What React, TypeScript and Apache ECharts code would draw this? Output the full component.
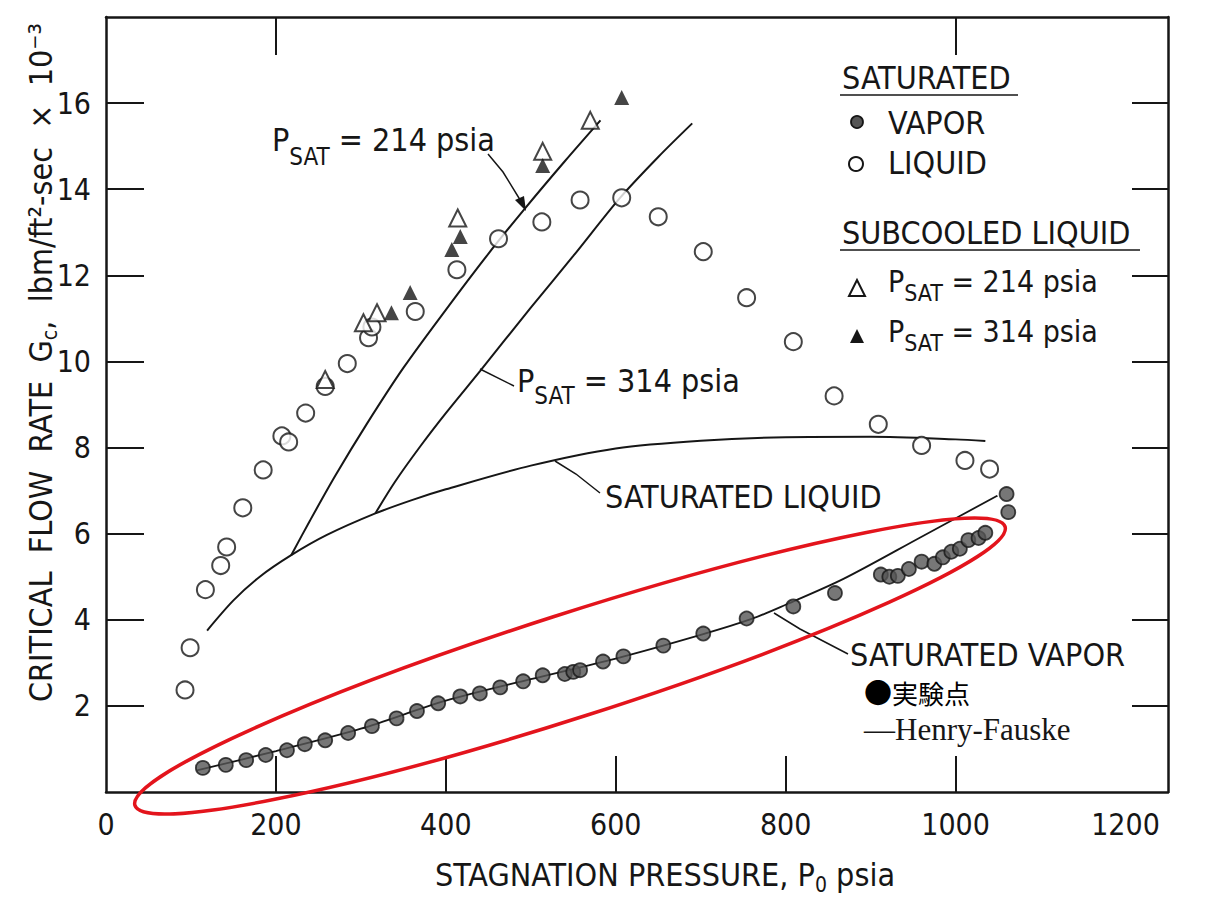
import React, { useEffect, useRef } from 'react';
import * as echarts from 'echarts';

// ---- axis ticks / labels ----
const xLabelValues = [0, 200, 400, 600, 800, 1000, 1200];
const xTickValues = [200, 400, 600, 800, 1000];
const xTopTickValues = [200, 1000];
const yTickValues = [2, 4, 6, 8, 10, 12, 14, 16];

// ---- experimental points [P0 psia, Gc x10^-3] ----
const satVaporPoints = [
  [114, 0.56], [141, 0.63], [165, 0.74], [188, 0.86], [213, 0.97], [234, 1.11], [258, 1.2],
  [285, 1.37], [313, 1.53], [342, 1.71], [366, 1.88], [391, 2.06], [417, 2.22], [440, 2.29],
  [464, 2.43], [491, 2.57], [514, 2.71], [540, 2.74], [550, 2.79], [558, 2.83], [585, 3.03],
  [609, 3.15], [656, 3.4], [703, 3.68], [754, 4.03], [809, 4.31], [858, 4.62], [912, 5.05],
  [922, 5.0], [932, 5.02], [945, 5.18], [960, 5.35], [975, 5.3], [985, 5.45], [995, 5.58],
  [1005, 5.65], [1015, 5.85], [1027, 5.9], [1035, 6.02], [1060, 6.92], [1062, 6.5],
];
const satLiquidPoints = [
  [93, 2.37], [99, 3.35], [117, 4.7], [135, 5.26], [142, 5.69], [161, 6.6], [185, 7.48],
  [207, 8.27], [215, 8.13], [235, 8.8], [258, 9.42], [284, 9.95], [309, 10.55], [313, 10.8],
  [364, 11.16], [413, 12.13], [462, 12.85], [513, 13.24], [558, 13.75], [607, 13.8],
  [650, 13.36], [703, 12.55], [754, 11.48], [809, 10.46], [857, 9.2], [909, 8.54],
  [960, 8.05], [1011, 7.7], [1040, 7.5],
];
const subcooled214Points = [[258, 9.58], [303, 10.9], [319, 11.13], [414, 13.33], [514, 14.88], [570, 15.6]];
const subcooled314Points = [[336, 11.13], [358, 11.6], [407, 12.6], [417, 12.9], [514, 14.55], [607, 16.13]];

// ---- Henry-Fauske curves ----
const satLiquidCurve = [
  [119, 3.75], [150, 4.45], [181, 5.0], [218, 5.5], [260, 5.97], [317, 6.47], [360, 6.78],
  [400, 7.03], [500, 7.58], [600, 7.98], [700, 8.16], [800, 8.24], [900, 8.25], [1000, 8.19], [1035, 8.15],
];
const psat214Curve = [
  [218, 5.5], [240, 6.3], [270, 7.35], [307, 8.55], [350, 9.85], [400, 11.2], [450, 12.5],
  [493, 13.55], [540, 14.65], [582, 15.6],
];
const psat314Curve = [
  [317, 6.47], [340, 7.2], [370, 8.03], [400, 8.8], [440, 9.77], [500, 11.25], [550, 12.45],
  [605, 13.8], [650, 14.75], [690, 15.53],
];
const satVaporCurve = [
  [107, 0.5], [200, 0.95], [300, 1.47], [400, 2.12], [500, 2.62], [600, 3.1], [700, 3.65],
  [760, 4.02], [800, 4.35], [868, 4.95], [960, 5.93], [1049, 6.88],
];

const FONT = "'DejaVu Sans Condensed', 'Liberation Sans Narrow', 'DejaVu Sans', sans-serif";
const SERIF = "'Liberation Serif', 'DejaVu Serif', serif";
const CJK = "'Noto Sans CJK JP', sans-serif";
const INK = '#161616';
const RED = '#e3141c';

function psatText(x: number, y: number, value: string, size: number, subSize: number, subPad: number) {
  return {
    type: 'text',
    x,
    y,
    z: 50,
    style: {
      text: `{m|P}{s|SAT}{m| = ${value} psia}`,
      verticalAlign: 'middle',
      rich: {
        m: { fontSize: size, fontFamily: FONT, fill: INK },
        s: { fontSize: subSize, fontFamily: FONT, fill: INK, padding: [subPad, 0, 0, 0] },
      },
    },
  };
}

function plainText(x: number, y: number, text: string, size: number, family = FONT) {
  return {
    type: 'text',
    x,
    y,
    z: 50,
    style: { text, fontSize: size, fontFamily: family, fill: INK, verticalAlign: 'middle' },
  };
}

function seg(points: number[][], width = 1.5) {
  return {
    type: 'polyline',
    z: 50,
    shape: { points },
    style: { stroke: INK, lineWidth: width, fill: 'none' },
  };
}

const lineBase = {
  type: 'line',
  showSymbol: false,
  symbol: 'none',
  smooth: 0.3,
  silent: true,
  lineStyle: { color: INK, width: 2 },
  z: 2,
};

const option = {
  animation: false,
  backgroundColor: '#ffffff',
  grid: { left: 106, right: 60, top: 17, bottom: 107, containLabel: false },
  xAxis: [
    {
      type: 'value',
      position: 'bottom',
      min: 0,
      max: 1250,
      interval: 200,
      axisLine: { show: true, onZero: false, lineStyle: { color: INK, width: 2.5 } },
      axisTick: { show: true, inside: true, length: 36, lineStyle: { color: INK, width: 2 }, customValues: xTickValues },
      axisLabel: {
        customValues: xLabelValues,
        margin: 17,
        fontSize: 30,
        fontFamily: FONT,
        color: INK,
        formatter: (v: number) => String(v),
      },
      splitLine: { show: false },
      name: '{m|STAGNATION PRESSURE, P}{s|0}{m| psia}',
      nameLocation: 'middle',
      nameGap: 62,
      nameMoveOverlap: false,
      nameTextStyle: {
        padding: [0, 0, 0, 56],
        rich: {
          m: { fontSize: 32, fontFamily: FONT, color: INK },
          s: { fontSize: 21, fontFamily: FONT, color: INK, padding: [20, 0, 0, 0] },
        },
      },
    },
    {
      type: 'value',
      position: 'top',
      min: 0,
      max: 1250,
      interval: 200,
      axisLine: { show: true, onZero: false, lineStyle: { color: INK, width: 2.5 } },
      axisTick: { show: true, inside: true, length: 38, lineStyle: { color: INK, width: 2 }, customValues: xTopTickValues },
      axisLabel: { show: false },
      splitLine: { show: false },
    },
  ],
  yAxis: [
    {
      type: 'value',
      position: 'left',
      min: 0,
      max: 18,
      interval: 2,
      axisLine: { show: true, onZero: false, lineStyle: { color: INK, width: 2.5 } },
      axisTick: { show: true, inside: true, length: 38, lineStyle: { color: INK, width: 2 }, customValues: yTickValues },
      axisLabel: {
        customValues: yTickValues,
        margin: 15,
        fontSize: 30,
        fontFamily: FONT,
        color: INK,
        formatter: (v: number) => String(v),
      },
      splitLine: { show: false },
      name: '{m|CRITICAL  FLOW  RATE  G}{s|c}{m|,  lbm/ft²-sec  ×  10⁻³}',
      nameLocation: 'middle',
      nameRotate: 90,
      nameGap: 46,
      nameMoveOverlap: false,
      nameTextStyle: {
        padding: [0, 0, 0, 84],
        rich: {
          m: { fontSize: 32, fontFamily: FONT, color: INK },
          s: { fontSize: 21, fontFamily: FONT, color: INK, padding: [18, 0, 0, 0] },
        },
      },
    },
    {
      type: 'value',
      position: 'right',
      min: 0,
      max: 18,
      interval: 2,
      axisLine: { show: true, onZero: false, lineStyle: { color: INK, width: 2.5 } },
      axisTick: { show: true, inside: true, length: 36, lineStyle: { color: INK, width: 2 }, customValues: yTickValues },
      axisLabel: { show: false },
      splitLine: { show: false },
    },
  ],
  series: [
    { ...lineBase, name: 'Saturated liquid (Henry-Fauske)', data: satLiquidCurve },
    { ...lineBase, name: 'PSAT = 214 psia (Henry-Fauske)', data: psat214Curve },
    { ...lineBase, name: 'PSAT = 314 psia (Henry-Fauske)', data: psat314Curve },
    { ...lineBase, name: 'Saturated vapor (Henry-Fauske)', data: satVaporCurve, lineStyle: { color: INK, width: 1.8 } },
    {
      type: 'scatter',
      name: 'Saturated vapor',
      data: satVaporPoints,
      symbol: 'circle',
      symbolSize: 14,
      itemStyle: { color: '#555555', borderColor: INK, borderWidth: 1.8 },
      z: 4,
      silent: true,
    },
    {
      type: 'scatter',
      name: 'Saturated liquid',
      data: satLiquidPoints,
      symbol: 'circle',
      symbolSize: 17,
      itemStyle: { color: '#ffffff', borderColor: INK, borderWidth: 2 },
      z: 4,
      silent: true,
    },
    {
      type: 'scatter',
      name: 'Subcooled PSAT = 214 psia',
      data: subcooled214Points,
      symbol: 'triangle',
      symbolSize: 17,
      itemStyle: { color: '#ffffff', borderColor: INK, borderWidth: 2 },
      z: 5,
      silent: true,
    },
    {
      type: 'scatter',
      name: 'Subcooled PSAT = 314 psia',
      data: subcooled314Points,
      symbol: 'triangle',
      symbolSize: 15,
      itemStyle: { color: INK },
      z: 6,
      silent: true,
    },
  ],
  graphic: [
    // curve annotations
    psatText(272, 140, '214', 32, 24, 34),
    seg([[488, 154], [503, 172], [522, 203]]),
    { type: 'polygon', z: 50, shape: { points: [[526, 211], [515, 200], [524, 196]] }, style: { fill: INK } },
    psatText(517, 381, '314', 32, 24, 30),
    seg([[480, 369], [514, 386]]),
    plainText(605, 497, 'SATURATED LIQUID', 32),
    seg([[555, 461], [576, 474], [600, 493]]),
    plainText(850, 655, 'SATURATED VAPOR', 32),
    seg([[774, 613], [800, 629], [848, 654]]),
    // legend
    plainText(842, 78, 'SATURATED', 32),
    { type: 'line', z: 50, shape: { x1: 840, y1: 95, x2: 1018, y2: 95 }, style: { stroke: INK, lineWidth: 1.5 } },
    { type: 'circle', z: 50, shape: { cx: 857, cy: 122, r: 6 }, style: { fill: '#555555', stroke: INK, lineWidth: 1.8 } },
    plainText(888, 123, 'VAPOR', 32),
    { type: 'circle', z: 50, shape: { cx: 856, cy: 164, r: 7 }, style: { fill: '#fff', stroke: INK, lineWidth: 2 } },
    plainText(888, 163, 'LIQUID', 32),
    plainText(842, 233, 'SUBCOOLED LIQUID', 32),
    { type: 'line', z: 50, shape: { x1: 840, y1: 250, x2: 1140, y2: 250 }, style: { stroke: INK, lineWidth: 1.5 } },
    { type: 'polygon', z: 50, shape: { points: [[857, 280], [849, 296], [865, 296]] }, style: { fill: '#fff', stroke: INK, lineWidth: 2 } },
    psatText(888, 281, '214', 30, 23, 24),
    { type: 'polygon', z: 50, shape: { points: [[857, 329], [850, 343], [864, 343]] }, style: { fill: INK } },
    psatText(888, 331, '314', 30, 23, 24),
    // key for experiment / model
    {
      type: 'text',
      x: 864,
      y: 692,
      z: 50,
      style: {
        text: '{d|●}{t|実験点}',
        verticalAlign: 'middle',
        rich: {
          d: { fontSize: 28, fontFamily: CJK, fill: '#000' },
          t: { fontSize: 26, fontFamily: CJK, fill: '#000' },
        },
      },
    },
    plainText(864, 729, '—Henry-Fauske', 31, SERIF),
    // red highlight ellipse
    {
      type: 'ellipse',
      z: 100,
      x: 570,
      y: 666,
      rotation: 0.31,
      shape: { cx: 0, cy: 0, rx: 457, ry: 52 },
      style: { fill: 'none', stroke: RED, lineWidth: 3.5 },
    },
  ],
};

export default function App() {
  const ref = useRef<HTMLDivElement>(null);
  useEffect(() => {
    if (!ref.current) return;
    const chart = echarts.init(ref.current, null, { renderer: 'svg' });
    chart.setOption(option as any);
    return () => chart.dispose();
  }, []);
  return (
    <div
      ref={ref}
      style={{ position: 'absolute', left: 0, top: 0, width: 1228, height: 900, background: '#ffffff' }}
    />
  );
}
